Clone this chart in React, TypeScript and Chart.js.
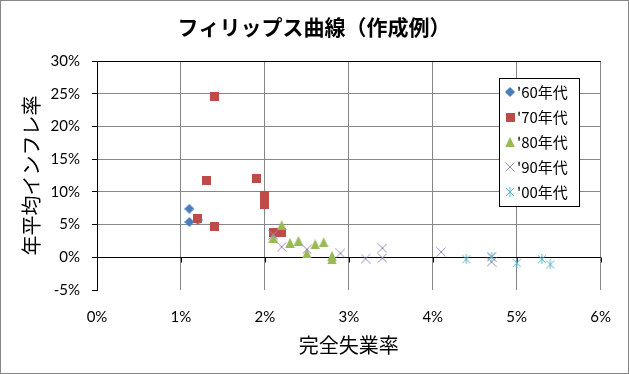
import React, { useEffect, useRef } from 'react';
import { Chart, registerables } from 'chart.js';

Chart.register(...registerables);

// ---- data ----
const chartTitle = 'フィリップス曲線（作成例）';
const xAxisTitle = '完全失業率';
const yAxisTitle = '年平均インフレ率';
const seriesLabels = ["'60年代", "'70年代", "'80年代", "'90年代", "'00年代"];

const unemp60 = [1.1, 1.1, 1.2];
const infl60 = [7.4, 5.4, 5.7];

const unemp70 = [1.4, 1.3, 1.9, 2.0, 2.0, 1.2, 1.4, 2.1, 2.2];
const infl70 = [24.5, 11.7, 12.0, 9.5, 8.1, 6.0, 4.7, 3.8, 3.8];

const unemp80 = [2.2, 2.1, 2.3, 2.4, 2.5, 2.6, 2.7, 2.8, 2.8];
const infl80 = [4.9, 3.0, 2.2, 2.5, 0.6, 2.0, 2.3, 0.2, -0.3];

const unemp90 = [2.1, 2.2, 2.5, 2.9, 3.2, 3.4, 3.4, 4.1, 4.7, 4.7];
const infl90 = [3.4, 1.6, 1.2, 0.6, -0.2, 1.4, -0.1, 0.8, 0.1, -0.7];

const unemp00 = [4.4, 4.7, 5.0, 5.3, 5.4];
const infl00 = [-0.3, 0.1, -0.9, -0.3, -1.1];

const xMin = 0, xMax = 6, xStep = 1;
const yMin = -5, yMax = 30, yStep = 5;

const seriesColors = ['#4A7EBB', '#BE4B48', '#98B954', '#9A84BA', '#5BB6CE'];
const markerKinds = ['diamond', 'square', 'triangle', 'x', 'star'];

function makeMarker(kind: string, color: string): HTMLCanvasElement {
  const c = document.createElement('canvas');
  const s = kind === 'square' ? 9 : 10;
  c.width = s;
  c.height = s;
  const ctx = c.getContext('2d')!;
  ctx.fillStyle = color;
  ctx.strokeStyle = color;
  ctx.lineWidth = 1;
  if (kind === 'diamond') {
    ctx.beginPath();
    ctx.moveTo(5, 0); ctx.lineTo(10, 5); ctx.lineTo(5, 10); ctx.lineTo(0, 5);
    ctx.closePath(); ctx.fill();
  } else if (kind === 'square') {
    ctx.fillRect(0, 0, 9, 9);
  } else if (kind === 'triangle') {
    ctx.beginPath();
    ctx.moveTo(5, 0); ctx.lineTo(9.8, 10); ctx.lineTo(0.2, 10);
    ctx.closePath(); ctx.fill();
  } else if (kind === 'x') {
    ctx.beginPath();
    ctx.moveTo(0.5, 0.5); ctx.lineTo(9.5, 9.5);
    ctx.moveTo(9.5, 0.5); ctx.lineTo(0.5, 9.5);
    ctx.stroke();
  } else {
    ctx.beginPath();
    ctx.moveTo(1, 1); ctx.lineTo(9, 9);
    ctx.moveTo(9, 1); ctx.lineTo(1, 9);
    ctx.moveTo(5, 0); ctx.lineTo(5, 10);
    ctx.stroke();
  }
  return c;
}

function zip(xs: number[], ys: number[]) {
  return xs.map((x, i) => ({ x, y: ys[i] }));
}

const JP = '"Noto Sans CJK JP", sans-serif';
const NUM = 'Lato, "Noto Sans", sans-serif';
const GRID = '#878787';

export default function App() {
  const ref = useRef<HTMLCanvasElement | null>(null);

  useEffect(() => {
    if (!ref.current) return;
    const markers = markerKinds.map((k, i) => makeMarker(k, seriesColors[i]));
    const pairs = [
      zip(unemp60, infl60),
      zip(unemp70, infl70),
      zip(unemp80, infl80),
      zip(unemp90, infl90),
      zip(unemp00, infl00),
    ];

    const decor = {
      id: 'decor',
      beforeDraw(chart: any) {
        const { ctx, width, height } = chart;
        ctx.save();
        ctx.fillStyle = '#fff';
        ctx.fillRect(0, 0, width, height);
        ctx.strokeStyle = '#868686';
        ctx.lineWidth = 1;
        ctx.strokeRect(0.5, 0.5, width - 1, height - 1);
        ctx.restore();
      },
      beforeDatasetsDraw(chart: any) {
        const { ctx } = chart;
        const xs = chart.scales.x;
        const ys = chart.scales.y;
        const y0 = Math.round(ys.getPixelForValue(0)) + 0.5;
        ctx.save();
        ctx.strokeStyle = '#000';
        ctx.lineWidth = 1;
        ctx.beginPath();
        xs.ticks.forEach((t: any) => {
          const px = Math.round(xs.getPixelForValue(t.value)) + 0.5;
          ctx.moveTo(px, y0);
          ctx.lineTo(px, y0 + 5);
        });
        ctx.stroke();
        ctx.restore();
      },
      afterDraw(chart: any) {
        const { ctx, chartArea } = chart;
        ctx.save();
        ctx.fillStyle = '#000';
        // title
        ctx.font = 'bold 21px ' + JP;
        ctx.textAlign = 'center';
        ctx.textBaseline = 'middle';
        ctx.fillText(chartTitle, 314, 27);
        // x title
        ctx.font = '20px ' + JP;
        ctx.fillText(xAxisTitle, (chartArea.left + chartArea.right) / 2, 345);
        // y title
        ctx.save();
        ctx.translate(31, (chartArea.top + chartArea.bottom) / 2);
        ctx.rotate(-Math.PI / 2);
        ctx.fillText(yAxisTitle, 0, 0);
        ctx.restore();
        // legend
        const lx = 499.5, ly = 78.5, lw = 80, lh = 128;
        ctx.fillStyle = '#fff';
        ctx.fillRect(lx, ly, lw, lh);
        ctx.strokeStyle = '#000';
        ctx.lineWidth = 1;
        ctx.strokeRect(lx, ly, lw, lh);
        ctx.font = '15px ' + JP;
        ctx.textAlign = 'left';
        ctx.textBaseline = 'middle';
        ctx.fillStyle = '#000';
        seriesLabels.forEach((lab, i) => {
          const cy = 92 + i * 25;
          const m = markers[i];
          ctx.drawImage(m, 510 - m.width / 2, cy - m.height / 2);
          ctx.fillText(lab, 517, cy);
        });
        ctx.restore();
      },
    };

    const chart = new Chart(ref.current, {
      type: 'scatter',
      data: {
        datasets: pairs.map((d, i) => ({
          label: seriesLabels[i],
          data: d,
          order: pairs.length - 1 - i,
          pointStyle: markers[i] as any,
          pointRadius: 5,
          backgroundColor: seriesColors[i],
          borderColor: seriesColors[i],
          showLine: false,
        })),
      },
      options: {
        animation: false,
        responsive: false,
        events: [],
        layout: { padding: { top: 61, right: 28, bottom: 0, left: 0 } },
        plugins: {
          legend: { display: false },
          title: { display: false },
          tooltip: { enabled: false },
        },
        scales: {
          x: {
            type: 'linear',
            min: xMin,
            max: xMax,
            afterFit: (s: any) => { s.height = 84; },
            ticks: {
              stepSize: xStep,
              callback: (v: any) => v + '%',
              font: { family: NUM, size: 15 },
              color: '#000',
              padding: 18,
            },
            grid: { color: GRID, drawTicks: false, lineWidth: 1 },
            border: { display: false },
          },
          y: {
            type: 'linear',
            min: yMin,
            max: yMax,
            afterFit: (s: any) => { s.width = 97; },
            ticks: {
              stepSize: yStep,
              callback: (v: any) => v + '%',
              font: { family: NUM, size: 15 },
              color: '#000',
              padding: 12,
            },
            grid: {
              color: (c: any) => {
                const v = c.tick ? c.tick.value : null;
                if (v === 0 || v === yMax) return '#000';
                if (v === yMin) return 'rgba(0,0,0,0)';
                return GRID;
              },
              tickColor: '#000',
              tickLength: 5,
              lineWidth: 1,
            },
            border: { display: true, color: '#000', width: 1 },
          },
        },
      },
      plugins: [decor],
    });
    return () => chart.destroy();
  }, []);

  return (
    <div style={{ position: 'absolute', left: 0, top: 0, width: 629, height: 374 }}>
      <canvas ref={ref} width={629} height={374} style={{ width: 629, height: 374, display: 'block' }} />
    </div>
  );
}
